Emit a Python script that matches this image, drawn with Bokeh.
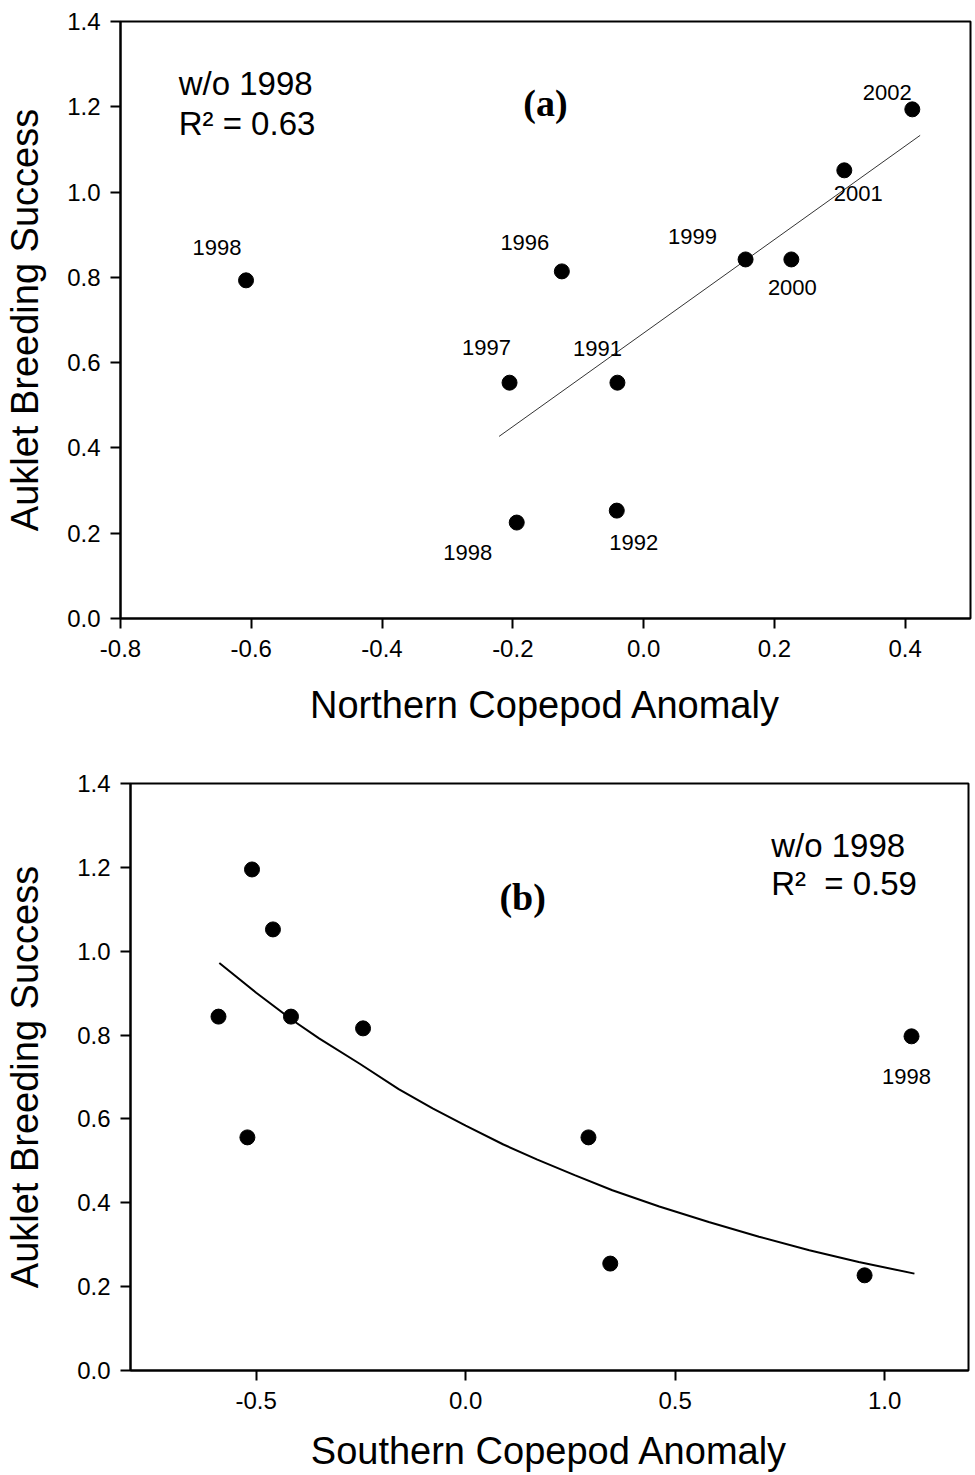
from bokeh.plotting import figure
from bokeh.layouts import column, row
from bokeh.models import ColumnDataSource, FixedTicker, NumeralTickFormatter, Range1d
from bokeh.core.properties import value
from bokeh.embed import file_html
from bokeh.resources import INLINE

# ---------------- data ----------------
years_north = ["1998", "1996", "1997", "1991", "1998", "1992", "1999", "2000", "2001", "2002"]
north_anomaly = [-0.608, -0.125, -0.205, -0.040, -0.194, -0.041, 0.156, 0.226, 0.307, 0.411]
success_north = [0.793, 0.814, 0.553, 0.553, 0.225, 0.253, 0.842, 0.842, 1.051, 1.194]

fit_north_x = [-0.221, 0.423]
fit_north_y = [0.427, 1.133]

south_anomaly = [-0.510, -0.460, -0.590, -0.417, -0.245, -0.521, 0.293, 0.345, 0.952, 1.064]
success_south = [1.195, 1.052, 0.844, 0.844, 0.816, 0.556, 0.556, 0.255, 0.227, 0.797]
years_south_labelled = ["1998"]
south_label_x = [1.064]
south_label_y = [0.797]

fit_south_x = [-0.588, -0.500, -0.414, -0.350, -0.252, -0.160, -0.079, 0.000, 0.090,
               0.171, 0.260, 0.350, 0.462, 0.580, 0.700, 0.820, 0.938, 1.071]
fit_south_y = [0.972, 0.901, 0.836, 0.792, 0.731, 0.671, 0.625, 0.584, 0.539,
               0.503, 0.466, 0.430, 0.391, 0.354, 0.319, 0.287, 0.259, 0.231]

y_ticks = [0.0, 0.2, 0.4, 0.6, 0.8, 1.0, 1.2, 1.4]
x_ticks_north = [-0.8, -0.6, -0.4, -0.2, 0.0, 0.2, 0.4]
x_ticks_south = [-0.5, 0.0, 0.5, 1.0]

# label offsets in screen pixels (style, not data)
north_dx = [-29, -37, -23, -20, -49, 17, -53, 1, 14, -25]
north_dy = [-33, -29, -35, -34, 30, 32, -23, 28, 23, -17]
south_dx = [-5]
south_dy = [40]

FONT = "Liberation Sans"


def style(p, xticks, xlabel, x_title_standoff, y_title_standoff):
    p.xgrid.grid_line_color = None
    p.ygrid.grid_line_color = None
    p.outline_line_color = "black"
    p.outline_line_width = 2
    p.outline_line_alpha = 1.0
    p.background_fill_color = "white"
    p.border_fill_color = "white"
    p.xaxis.ticker = FixedTicker(ticks=xticks)
    p.yaxis.ticker = FixedTicker(ticks=y_ticks)
    p.xaxis.formatter = NumeralTickFormatter(format="0.0")
    p.yaxis.formatter = NumeralTickFormatter(format="0.0")
    for ax in (p.xaxis[0], p.yaxis[0]):
        ax.axis_line_width = 2
        ax.axis_line_color = "black"
        ax.major_tick_line_width = 2
        ax.major_tick_line_color = "black"
        ax.major_tick_out = 10
        ax.major_tick_in = 0
        ax.minor_tick_line_color = None
        ax.major_label_text_font = FONT
        ax.major_label_text_font_size = "24px"
        ax.major_label_text_color = "black"
        ax.axis_label_text_font = FONT
        ax.axis_label_text_font_size = "38px"
        ax.axis_label_text_font_style = "normal"
        ax.axis_label_text_color = "black"
    p.xaxis.axis_label = xlabel
    p.yaxis.axis_label = "Auklet Breeding Success"
    p.xaxis.major_label_standoff = 11
    p.xaxis.axis_label_standoff = x_title_standoff
    p.yaxis.major_label_standoff = 10
    p.yaxis.axis_label_standoff = y_title_standoff


# ---------------- panel (a) ----------------
pa = figure(width=973, height=765, x_range=Range1d(-0.8, 0.5), y_range=Range1d(0.0, 1.4),
            output_backend="svg", toolbar_location=None,
            min_border_left=120, min_border_top=21, min_border_right=3, min_border_bottom=147)
style(pa, x_ticks_north, "Northern Copepod Anomaly", 24, 18)

src_a = ColumnDataSource(dict(x=north_anomaly, y=success_north, t=years_north,
                              dx=north_dx, dy=north_dy))
pa.line(fit_north_x, fit_north_y, line_color="#333333", line_width=1)
pa.scatter("x", "y", source=src_a, size=15, color="black")
pa.text("x", "y", text="t", source=src_a, x_offset="dx", y_offset="dy",
        text_font=value(FONT), text_font_size=value("22px"),
        text_align="center", text_baseline="middle", text_color="black")

pa.text([-0.711], [1.254], text=["w/o 1998"], text_font=value(FONT),
        text_font_size=value("33px"), text_align="left", text_baseline="alphabetic",
        text_color="black")
pa.text([-0.711], [1.160], text=["R² = 0.63"], text_font=value(FONT),
        text_font_size=value("33px"), text_align="left", text_baseline="alphabetic",
        text_color="black")
pa.text([-0.150], [1.210], text=["(a)"], text_font=value("Liberation Serif"),
        text_font_size=value("38px"), text_font_style="bold", text_align="center",
        text_baseline="middle", text_color="black")

# ---------------- panel (b) ----------------
pb = figure(width=971, height=709, x_range=Range1d(-0.8, 1.2), y_range=Range1d(0.0, 1.4),
            output_backend="svg", toolbar_location=None,
            min_border_left=130, min_border_top=18, min_border_right=3, min_border_bottom=104)
style(pb, x_ticks_south, "Southern Copepod Anomaly", 18, 28)

pb.line(fit_south_x, fit_south_y, line_color="black", line_width=2)
pb.scatter(south_anomaly, success_south, size=15, color="black")
src_b = ColumnDataSource(dict(x=south_label_x, y=south_label_y, t=years_south_labelled,
                              dx=south_dx, dy=south_dy))
pb.text("x", "y", text="t", source=src_b, x_offset="dx", y_offset="dy",
        text_font=value(FONT), text_font_size=value("22px"),
        text_align="center", text_baseline="middle", text_color="black")

pb.text([0.729], [1.251], text=["w/o 1998"], text_font=value(FONT),
        text_font_size=value("33px"), text_align="left", text_baseline="alphabetic",
        text_color="black")
pb.text([0.729], [1.161], text=["R²\u00a0 = 0.59"], text_font=value(FONT),
        text_font_size=value("33px"), text_align="left", text_baseline="alphabetic",
        text_color="black")
pb.text([0.136], [1.130], text=["(b)"], text_font=value("Liberation Serif"),
        text_font_size=value("38px"), text_font_style="bold", text_align="center",
        text_baseline="middle", text_color="black")

layout = column(pa, row(pb, spacing=0), spacing=0)
open("out.html", "w").write(file_html(layout, INLINE))
